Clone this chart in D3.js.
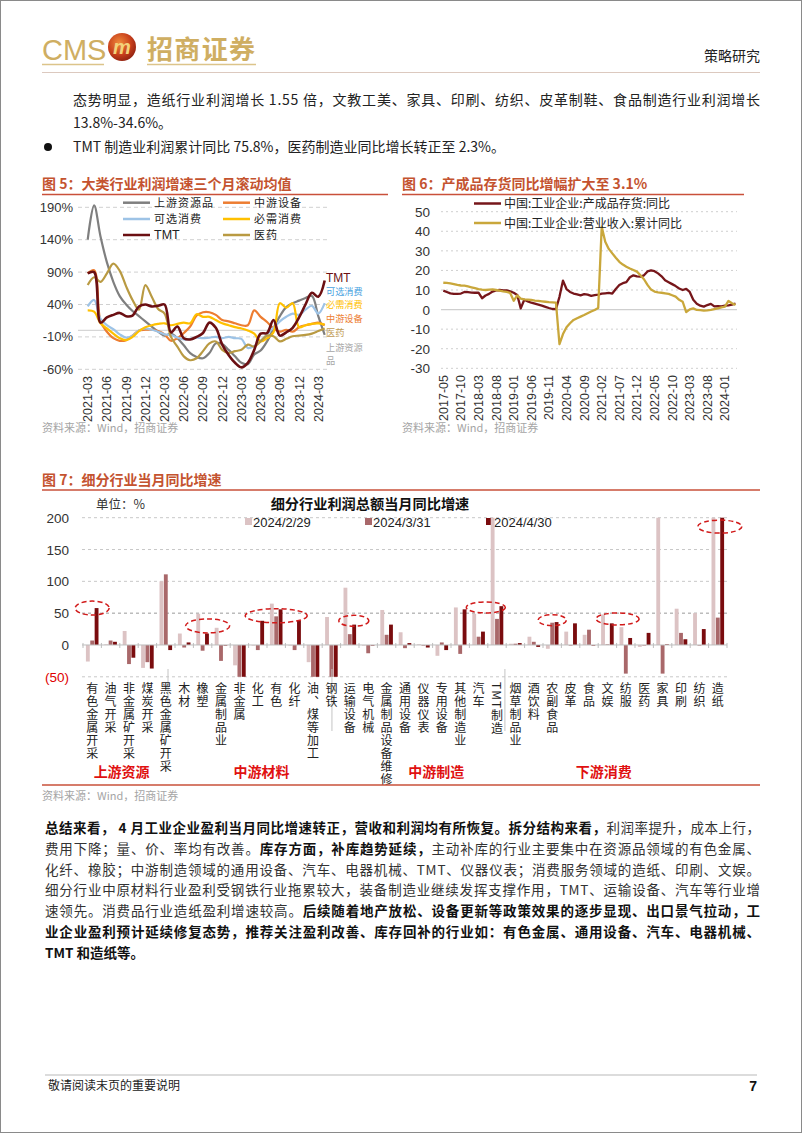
<!DOCTYPE html>
<html><head><meta charset="utf-8">
<script src="https://cdn.jsdelivr.net/npm/d3@7"></script>
<style>
html,body{margin:0;padding:0;background:#fff;}
svg{display:block;}
</style></head>
<body>
<svg id="page" width="802" height="1133"></svg>
<script>
// ---------------- DATA ----------------
// Figure 5 : three-month rolling mean of profit growth (%), monthly 2021-03 .. 2024-04
const fig5Names = ["上游资源品","中游设备","可选消费","必需消费","TMT","医药"];
const upstream = [140,193,145,105,75,53,40,30,22,14,6,-2,-8,-5,-12,-23,-35,-41,-43,-35,-20,-21,-30,-40,-50,-52,-37,-31,-17,3,22,36,42,46,50,53,22,-7];
const midEquip = [88,93,14,-2,-12,-16,-15,-8,0,1,1,-1,-6,-16,-12,-4,6,23,28,28,24,16,14,11,8,8,31,21,13,3,-2,1,-2,5,8,10,12,8];
const optCons  = [37,47,18,8,2,-6,-11,-8,0,3,1,-2,-6,-7,-11,-14,-13,-11,-12,-11,-10,-12,-10,-12,-13,-27,-24,-16,-6,4,14,21,26,24,32,38,26,42];
const essCons  = [31,29,11,3,-5,-12,-15,-10,-1,5,8,10,11,8,10,12,11,25,21,21,16,11,8,5,3,0,-5,-17,-12,-3,42,35,42,5,8,10,11,9];
const tmt      = [88,90,12,20,24,27,22,23,37,40,37,38,40,-3,6,-12,-14,-10,-4,12,4,-22,-38,-50,-57,-50,-30,-5,-4,16,-8,-3,4,20,40,58,52,77];
const pharma   = [70,82,75,88,103,92,68,47,32,70,52,33,26,-10,-25,-40,-46,-43,-32,-20,-17,-30,-35,-32,-30,-22,-25,-17,-8,-9,-17,-13,-9,-8,-7,-5,-1,3];
const fig5XTicks = ["2021-03","2021-06","2021-09","2021-12","2022-03","2022-06","2022-09","2022-12","2023-03","2023-06","2023-09","2023-12","2024-03"];
const fig5YTicks = [-60,-10,40,90,140,190];

// Figure 6 : monthly 2017-05 .. 2024-04
const fig6Names = ["中国:工业企业:产成品存货:同比","中国:工业企业:营业收入:累计同比"];
const inventoryYoY = [9.7,9.0,8.3,8.0,8.0,8.2,9.0,8.9,8.7,8.6,
  8.7,5.8,7.2,8.0,9.2,9.8,10.0,9.8,9.8,9.3,
  8.6,7.5,0.6,5.0,4.2,3.5,3.0,2.5,2.0,1.4,
  0.8,0.3,0.2,6.5,14.8,10.5,9.0,8.2,7.8,7.3,
  7.9,7.6,7.0,7.4,7.6,8.1,8.3,8.5,8.2,10.5,
  12.5,13.5,14.0,16.5,17.5,17.0,16.8,17.5,19.5,20.0,
  19.6,18.5,17.0,15.0,14.0,13.0,12.0,10.8,10.0,10.6,
  9.0,5.0,3.0,2.0,1.5,2.3,2.9,1.6,1.8,1.6,
  2.0,2.2,2.5,3.1];
const revenueCumYoY = [13.7,13.6,13.4,13.0,12.6,12.3,12.2,11.8,11.4,11.0,
  10.5,10.2,10.0,10.2,10.3,10.0,9.7,9.3,9.0,8.5,
  4.5,7.2,5.6,5.2,5.1,4.9,4.6,4.4,4.2,4.0,
  3.8,3.7,3.6,-17.7,-12.5,-9.0,-7.0,-5.3,-4.4,-3.6,
  -2.8,-1.9,-1.0,-0.2,0.8,42.3,34.6,31.0,28.7,26.5,
  24.4,23.0,21.9,21.0,20.2,19.4,17.5,15.5,12.6,10.2,
  9.2,8.8,8.6,8.3,8.0,7.3,6.6,5.0,4.0,-1.3,
  0.1,0.6,-0.2,-0.3,-0.5,-0.4,-0.2,0.2,0.6,1.1,
  1.5,4.4,3.2,2.3];
const fig6XTicks = ["2017-05","2017-10","2018-03","2018-08","2019-01","2019-06","2019-11","2020-04","2020-09","2021-02","2021-07","2021-12","2022-05","2022-10","2023-03","2023-08","2024-01"];
const fig6YTicks = [-30,-20,-10,0,10,20,30,40,50];

// Figure 7 : industry profit YoY (%), clipped to axis range on the chart
const categories7 = ["有色金属开采","油气开采","非金属矿开采","煤炭开采","黑色金属矿开采","木材","橡塑","金属制品业","非金属","化工","有色","化纤","油、煤等加工","钢铁","运输设备","电气机械","金属制品设备维修","通用设备","仪器仪表","专用设备","其他制造业","汽车","TMT制造","烟草制品业","酒饮料","农副食品","皮革","食品","文娱","纺服","医药","家具","印刷","纺织","造纸"];
const seriesKeys7 = ["2024/2/29","2024/3/31","2024/4/30"];
const feb29 = [-26,1,22,-36,100,18,49,27,-32,0,65,0,-27,44,90,0,55,20,1,-17,59,49,200,2,13,-6,21,16,48,28,-3,200,57,50,200];
const mar31 = [7,7,-30,-27,111,-4,-9,-25,-50,-8,45,-8,-50,-50,17,-13,16,-5,-1,4,-14,13,41,2,5,35,0,24,1,-45,0,-45,19,0,43];
const apr30 = [58,5,-20,-37,-8,4,18,0,-50,38,56,38,-50,-50,32,0,32,3,-4,-8,56,21,61,3,-3,36,34,0,34,11,19,1,9,25,200];
const fig7YTicks = [-50,0,50,100,150,200];
const groups7 = [{name:"上游资源",from:0,to:4},{name:"中游材料",from:5,to:13},{name:"中游制造",from:14,to:22},{name:"下游消费",from:23,to:34}];
// highlighted (circled) categories by their 2024/4/30 bars: [first index, last index]
const highlights7 = [[0,0],[6,6],[9,11],[14,14],[21,22],[25,25],[28,29],[34,34]];

// ---------------- HELPERS ----------------
function monthList(y, m, n){
  const out=[];
  for(let k=0;k<n;k++){const t=m-1+k; out.push((y+Math.floor(t/12))+"-"+String(t%12+1).padStart(2,"0"));}
  return out;
}
const months5 = monthList(2021,3,upstream.length);
const months6 = monthList(2017,5,inventoryYoY.length);

const CJK = '"Noto Sans CJK SC","Noto Sans",sans-serif';
const LAT = '"Liberation Sans",Arial,sans-serif';
const TITLE_C = "#c4532f";
const svg = d3.select("#page");

svg.append("rect").attr("x",0.5).attr("y",0.5).attr("width",801).attr("height",1132)
  .attr("fill","#fff").attr("stroke","#8a8a8a").attr("stroke-width",1);

function txt(g, x, y, s, o={}){
  const t = g.append("text").attr("x",x).attr("y",y).text(s)
    .attr("font-family",o.ff||CJK).attr("font-size",o.fs||12).attr("fill",o.fill||"#222");
  if(o.anchor) t.attr("text-anchor",o.anchor);
  if(o.fw) t.attr("font-weight",o.fw);
  if(o.db) t.attr("dominant-baseline",o.db);
  if(o.tl) t.attr("textLength",o.tl).attr("lengthAdjust","spacing");
  return t;
}

// ---------------- HEADER ----------------
const defs = svg.append("defs");
const rg = defs.append("radialGradient").attr("id","logoG").attr("cx","40%").attr("cy","35%").attr("r","70%");
rg.append("stop").attr("offset","0%").attr("stop-color","#f08a3a");
rg.append("stop").attr("offset","60%").attr("stop-color","#c8401c");
rg.append("stop").attr("offset","100%").attr("stop-color","#8e2010");
txt(svg,42,60,"CMS",{ff:LAT,fs:29,fill:"#cfae62"});
svg.append("circle").attr("cx",122).attr("cy",47).attr("r",14).attr("fill","url(#logoG)");
txt(svg,122,54,"m",{ff:LAT,fs:20,fill:"#f3d27a",anchor:"middle",fw:"bold"}).attr("font-style","italic");
txt(svg,147,59,"招商证券",{fs:26,fill:"#cfae62",fw:"bold",tl:108});
svg.append("line").attr("x1",42).attr("x2",104).attr("y1",64.5).attr("y2",64.5).attr("stroke","#dcc48a").attr("stroke-width",1.5);
svg.append("line").attr("x1",147).attr("x2",256).attr("y1",64.5).attr("y2",64.5).attr("stroke","#dcc48a").attr("stroke-width",1.5);
txt(svg,760,61,"策略研究",{fs:14,fill:"#222",anchor:"end"});
svg.append("line").attr("x1",42).attr("x2",760).attr("y1",72.5).attr("y2",72.5).attr("stroke","#dcc9bf").attr("stroke-width",1.2);

// top paragraph
txt(svg,73,105,"态势明显，造纸行业利润增长 1.55 倍，文教工美、家具、印刷、纺织、皮革制鞋、食品制造行业利润增长",{fs:14,fill:"#222",tl:687});
txt(svg,73,128,"13.8%-34.6%。",{fs:14,fill:"#222"});
svg.append("circle").attr("cx",48).attr("cy",147).attr("r",4).attr("fill","#111");
txt(svg,73,152,"TMT 制造业利润累计同比 75.8%，医药制造业同比增长转正至 2.3%。",{fs:14,fill:"#222"});

// ---------------- FIGURE 5 ----------------
const g5 = svg.append("g");
txt(g5,42,189,"图 5：大类行业利润增速三个月滚动均值",{fs:14,fill:TITLE_C,fw:"bold"});
g5.append("line").attr("x1",42).attr("x2",388).attr("y1",194.5).attr("y2",194.5).attr("stroke","#c9503a").attr("stroke-width",1.5);
const x5 = d3.scalePoint().domain(months5).range([87.7,324.7]);
const y5 = d3.scaleLinear().domain([-60,190]).range([369.3,207.3]);
fig5YTicks.forEach(t=>{
  g5.append("line").attr("x1",78).attr("x2",330).attr("y1",y5(t)).attr("y2",y5(t))
    .attr("stroke","#d0d0d0").attr("stroke-dasharray","4,3");
  txt(g5,73,y5(t)+4.5,t+"%",{ff:LAT,fs:13,fill:"#333",anchor:"end"});
});
g5.append("line").attr("x1",78).attr("x2",330).attr("y1",y5(0)).attr("y2",y5(0)).attr("stroke","#d6d6d6").attr("stroke-width",1.2);
fig5XTicks.forEach(m=>{
  g5.append("text").attr("transform",`translate(${x5(m)+4.5},376) rotate(-90)`)
    .attr("text-anchor","end").attr("font-family",LAT).attr("font-size",12.5).attr("fill","#333").text(m);
});
const fig5Data = [upstream,midEquip,optCons,essCons,tmt,pharma];
const fig5Colors = ["#7f7f7f","#ed7d31","#9dc3e6","#ffc000","#6b0f12","#b99a42"];
const drawOrder5 = [0,1,2,3,5,4];
const line5 = d3.line().x((d,i)=>x5(months5[i])).y(d=>y5(d)).curve(d3.curveCatmullRom.alpha(0.5));
drawOrder5.forEach(k=>{
  g5.append("path").attr("d",line5(fig5Data[k])).attr("fill","none")
    .attr("stroke",fig5Colors[k]).attr("stroke-width",k===4?2.6:2.2).attr("stroke-linejoin","round");
});
// legend
const leg5 = [[0,123,202.7],[1,223,202.7],[2,123,219],[3,223,219],[4,123,235],[5,223,235]];
leg5.forEach(([k,lx,ly])=>{
  g5.append("line").attr("x1",lx).attr("x2",lx+27).attr("y1",ly).attr("y2",ly).attr("stroke",fig5Colors[k]).attr("stroke-width",2.5);
  txt(g5,lx+31,ly+4,fig5Names[k],{ff:k===4?LAT:CJK,fs:k===4?12.5:11,fill:"#222"}).attr("letter-spacing",k===4?0:1);
});
// end labels: one stacked text block, first line anchored at the TMT end value
const endLabels5 = [["TMT","#6b0f12",12,0],["可选消费","#4aa3df",9.2,13.4],["必需消费","#ffc000",9.2,13.4],["中游设备","#ed7d31",9.2,13.4],["医药","#c09a50",9.2,13.8],["上游资源","#a6a6a6",9.2,15],["品","#a6a6a6",9.2,13.4]];
const endBlock = g5.append("text").attr("x",326).attr("y",y5(tmt[tmt.length-1])+1).attr("font-family",CJK);
endLabels5.forEach(([s,c,fs,dy])=>{
  endBlock.append("tspan").attr("x",326).attr("dy",dy).attr("font-size",fs).attr("fill",c)
    .attr("font-family",s==="TMT"?LAT:CJK).text(s);
});
txt(g5,42,432,"资料来源：Wind，招商证券",{fs:11,fill:"#a5a5a5"});

// ---------------- FIGURE 6 ----------------
const g6 = svg.append("g");
txt(g6,402,189,"图 6：产成品存货同比增幅扩大至 3.1%",{fs:14,fill:TITLE_C,fw:"bold"});
g6.append("line").attr("x1",402).attr("x2",744).attr("y1",194.5).attr("y2",194.5).attr("stroke","#c9503a").attr("stroke-width",1.5);
const x6 = d3.scalePoint().domain(months6).range([443.3,735.5]);
const y6 = d3.scaleLinear().domain([-30,50]).range([368.3,211.7]);
fig6YTicks.forEach(t=>{
  if(t!==0) g6.append("line").attr("x1",441).attr("x2",737).attr("y1",y6(t)).attr("y2",y6(t))
    .attr("stroke","#cfcfcf").attr("stroke-dasharray","2,3");
  txt(g6,430,y6(t)+5,String(t),{ff:LAT,fs:13.5,fill:"#333",anchor:"end"});
});
g6.append("line").attr("x1",441).attr("x2",737).attr("y1",y6(0)).attr("y2",y6(0)).attr("stroke","#cfcfcf").attr("stroke-width",1.2);
fig6XTicks.forEach(m=>{
  g6.append("text").attr("transform",`translate(${x6(m)+4.5},375) rotate(-90)`)
    .attr("text-anchor","end").attr("font-family",LAT).attr("font-size",12.5).attr("fill","#333").text(m);
});
const fig6Data = [inventoryYoY,revenueCumYoY];
const fig6Colors = ["#76161a","#c9a73b"];
const line6 = d3.line().x((d,i)=>x6(months6[i])).y(d=>y6(d));
[0,1].forEach(k=>{
  g6.append("path").attr("d",line6(fig6Data[k])).attr("fill","none")
    .attr("stroke",fig6Colors[k]).attr("stroke-width",2.3).attr("stroke-linejoin","round");
});
[[0,203.5],[1,223]].forEach(([k,ly])=>{
  g6.append("line").attr("x1",474).attr("x2",501).attr("y1",ly).attr("y2",ly).attr("stroke",fig6Colors[k]).attr("stroke-width",2.5);
  txt(g6,504,ly+4.5,fig6Names[k],{fs:12,fill:"#222"});
});
txt(g6,402,432,"资料来源：Wind，招商证券",{fs:11,fill:"#a5a5a5"});

// ---------------- FIGURE 7 ----------------
const g7 = svg.append("g");
txt(g7,42,485,"图 7：细分行业当月同比增速",{fs:14,fill:TITLE_C,fw:"bold"});
g7.append("line").attr("x1",42).attr("x2",760).attr("y1",490).attr("y2",490).attr("stroke","#c9503a").attr("stroke-width",1.5);
txt(g7,96,509,"单位：%",{fs:12.5,fill:"#333"});
txt(g7,370,509,"细分行业利润总额当月同比增速",{fs:14.2,fill:"#111",fw:"bold",anchor:"middle"});

const x7 = d3.scaleBand().domain(categories7).range([83,727]).padding(0);
const bw = x7.bandwidth();
const xs7 = d3.scaleBand().domain(seriesKeys7).range([bw*0.158,bw*0.842]).paddingInner(0.12);
const y7 = d3.scaleLinear().domain([-50,200]).range([676.8,517.7]).clamp(true);
const colors7 = ["#dcc3c4","#a9686a","#7a0c0e"];
const fig7Data = [feb29,mar31,apr30];

fig7YTicks.forEach(t=>{
  if(t!==0) g7.append("line").attr("x1",82).attr("x2",727).attr("y1",y7(t)).attr("y2",y7(t))
    .attr("stroke",t===50?"#9a9a9a":"#c8c8c8").attr("stroke-dasharray","3,3");
  txt(g7,69,y7(t)+5,t<0?"("+Math.abs(t)+")":String(t),{ff:LAT,fs:13.5,fill:t<0?"#e00000":"#333",anchor:"end"});
});
// legend
seriesKeys7.forEach((k,j)=>{
  const lx=[245,365,486][j];
  g7.append("rect").attr("x",lx).attr("y",518).attr("width",7).attr("height",7).attr("fill",colors7[j]);
  txt(g7,lx+8,526.5,k,{ff:LAT,fs:13,fill:"#222"});
});
// bars
categories7.forEach((c,i)=>{
  fig7Data.forEach((arr,j)=>{
    const v=arr[i], y0=y7(0), yv=y7(v);
    g7.append("rect").attr("x",x7(c)+xs7(seriesKeys7[j])).attr("width",xs7.bandwidth())
      .attr("y",Math.min(y0,yv)).attr("height",Math.max(0.6,Math.abs(yv-y0))).attr("fill",colors7[j]);
  });
});
// zero axis and tick marks
g7.append("line").attr("x1",82).attr("x2",727).attr("y1",y7(0)).attr("y2",y7(0)).attr("stroke","#bdbdbd").attr("stroke-width",1);
categories7.concat([null]).forEach((c,i)=>{
  const xx = 83 + bw*i;
  g7.append("line").attr("x1",xx).attr("x2",xx).attr("y1",y7(0)-2).attr("y2",y7(0)+3).attr("stroke","#bdbdbd");
});
// circled highlights around the 2024/4/30 bars
const hlLayout = [{dv:0,rx:17,ry:7,dx:0},{dv:12,rx:22,ry:7,dx:5},{dv:-10,rx:31,ry:7,dx:0},{dv:6,rx:15,ry:5.5,dx:4},{dv:-2,rx:19.5,ry:5.5,dx:-2},{dv:3,rx:14,ry:5.5,dx:0},{dv:7,rx:21.5,ry:6,dx:1},{dv:-14,rx:22,ry:6.5,dx:2}];
highlights7.forEach(([a,b],k)=>{
  const cx = (x7(categories7[a]) + x7(categories7[b]) + bw)/2;
  const top = d3.max(d3.range(a,b+1), i=>Math.min(apr30[i],200));
  const L = hlLayout[k];
  g7.append("ellipse").attr("cx",cx+L.dx).attr("cy",y7(top+L.dv)).attr("rx",L.rx).attr("ry",L.ry)
    .attr("fill","none").attr("stroke","#d11a1a").attr("stroke-width",1.5).attr("stroke-dasharray","5,3");
});
// group separators
[4.62,13.53,22.93].forEach(p=>{
  g7.append("line").attr("x1",83+bw*p).attr("x2",83+bw*p).attr("y1",669).attr("y2",731).attr("stroke","#c4c4c4");
});
// category labels (vertical writing mode)
categories7.forEach(c=>{
  const cx = x7(c)+bw/2;
  g7.append("text").attr("x",cx).attr("y",682)
    .style("writing-mode","vertical-rl").style("text-orientation","mixed")
    .attr("font-family",CJK).attr("font-size",12).attr("letter-spacing",1).attr("fill","#222").text(c);
});
// group labels
const groupAt = [1.6,9.2,18.7,27.8];
groups7.forEach((gr,k)=>{
  txt(g7,83+bw*(groupAt[k]+0.5),777,gr.name,{fs:14,fill:"#e01010",anchor:"middle",fw:"bold"});
});
g7.append("line").attr("x1",42).attr("x2",760).attr("y1",785).attr("y2",785).attr("stroke","#c9503a").attr("stroke-width",1.3);
txt(g7,42,800,"资料来源：Wind，招商证券",{fs:11,fill:"#a5a5a5"});

// ---------------- BOTTOM PARAGRAPH ----------------
const para = [
  [["b","总结来看， 4 月工业企业盈利当月同比增速转正，营收和利润均有所恢复。拆分结构来看，"],["n","利润率提升，成本上行，"]],
  [["n","费用下降；量、价、率均有改善。"],["b","库存方面，补库趋势延续，"],["n","主动补库的行业主要集中在资源品领域的有色金属、"]],
  [["n","化纤、橡胶；中游制造领域的通用设备、汽车、电器机械、TMT、仪器仪表；消费服务领域的造纸、印刷、文娱。"]],
  [["n","细分行业中原材料行业盈利受钢铁行业拖累较大，装备制造业继续发挥支撑作用，TMT、运输设备、汽车等行业增"]],
  [["n","速领先。消费品行业造纸盈利增速较高。"],["b","后续随着地产放松、设备更新等政策效果的逐步显现、出口景气拉动，工"]],
  [["b","业企业盈利预计延续修复态势，推荐关注盈利改善、库存回补的行业如：有色金属、通用设备、汽车、电器机械、"]],
  [["b","TMT 和造纸等。"]]
];
para.forEach((ln,i)=>{
  const t = svg.append("text").attr("x",45).attr("y",833+i*20.8).attr("font-family",CJK).attr("font-size",13.5);
  if(i<para.length-1) t.attr("textLength",715).attr("lengthAdjust","spacing");
  ln.forEach(([w,s])=>{
    t.append("tspan").text(s).attr("font-weight",w==="b"?"bold":"normal").attr("fill",w==="b"?"#111":"#333");
  });
});

// ---------------- FOOTER ----------------
svg.append("line").attr("x1",45).attr("x2",757).attr("y1",1075).attr("y2",1075).attr("stroke","#d0d0d0").attr("stroke-width",1.5);
txt(svg,48,1090,"敬请阅读末页的重要说明",{fs:12,fill:"#222"});
txt(svg,757,1091,"7",{ff:LAT,fs:14,fill:"#111",anchor:"end",fw:"bold"});
</script>
</body></html>
